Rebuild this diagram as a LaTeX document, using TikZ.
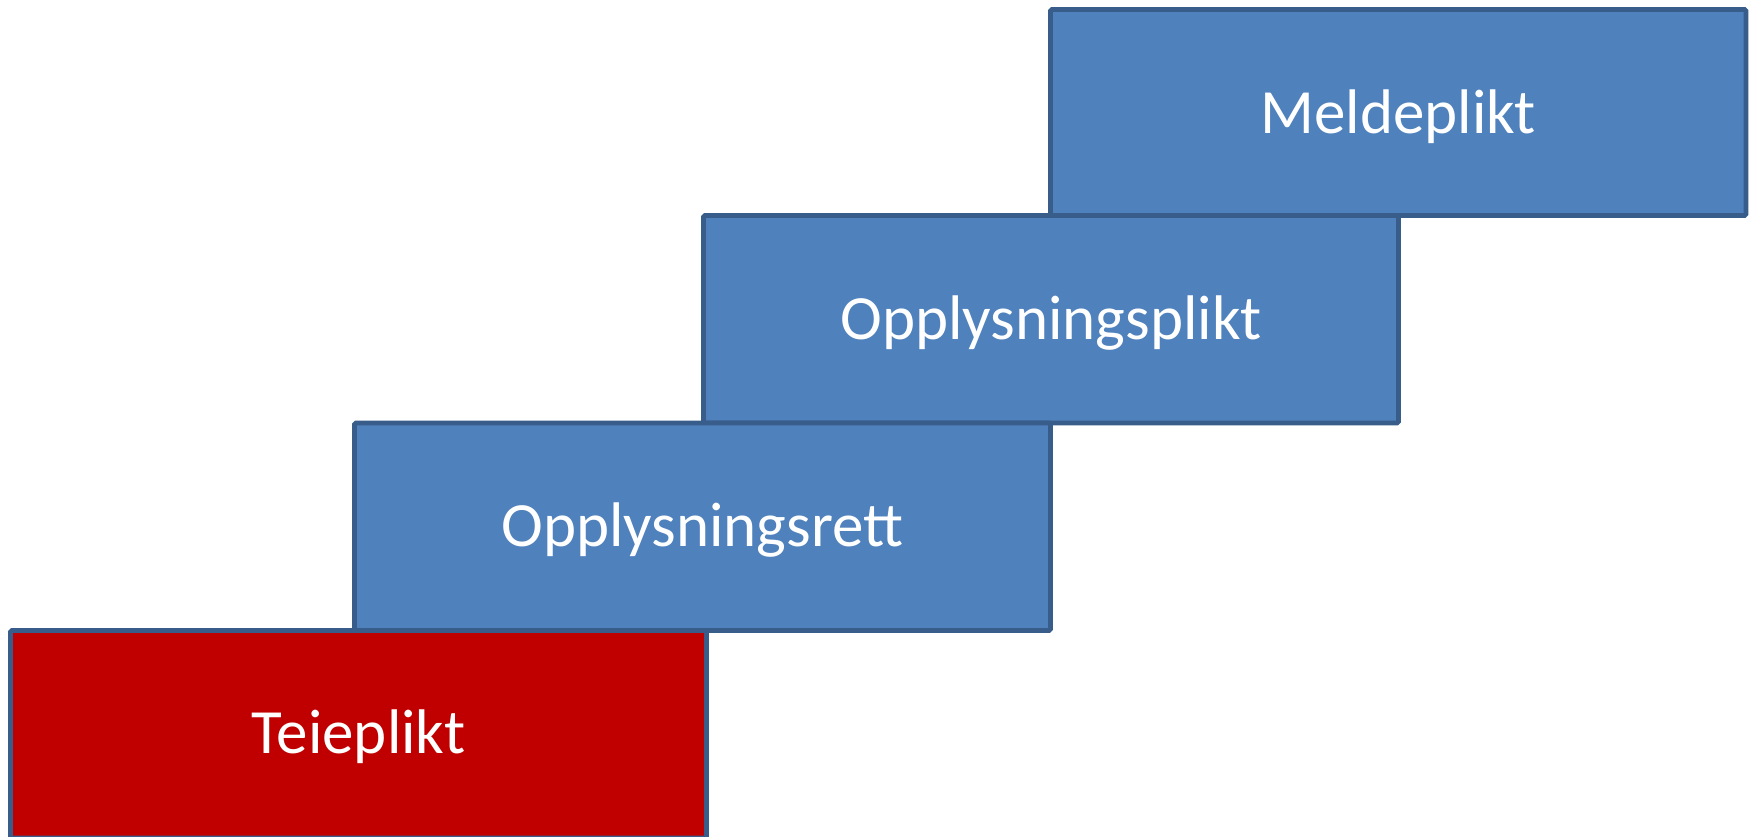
\documentclass[tikz,border=0pt]{standalone}
\usepackage{fontspec}
\setmainfont{Carlito}
\definecolor{boxblue}{HTML}{4F81BD}
\definecolor{boxline}{HTML}{385D8A}
\definecolor{boxred}{HTML}{C00000}
\begin{document}
\begin{tikzpicture}[x=1pt,y=-1pt,
  stepbox/.style={draw=boxline, line width=4.8pt, rounded corners=1.5pt, fill=boxblue},
  steplabel/.style={text=white, anchor=base, inner sep=0pt, font=\fontsize{63}{75}\selectfont}]
\useasboundingbox (0,0) rectangle (1759,836);
\fill[white] (0,0) rectangle (1759,836);
\begin{scope}
\clip (0,0) rectangle (1759,836);
\draw[stepbox] (1050.5,9.5) rectangle (1746,215.5);
\draw[stepbox] (703.5,215.5) rectangle (1398.5,423);
\draw[stepbox] (354.5,423) rectangle (1050.5,630.5);
\draw[stepbox, fill=boxred] (10.5,630.5) rectangle (706.5,838);
\end{scope}
\node[steplabel] (m) at (1398.25,133.5) {Meldeplikt};
\node[steplabel] (p) at (1051,339) {Opplysningsplikt};
\node[steplabel] (r) at (702.5,546.3) {Opplysningsrett};
\node[steplabel] (t) at (358.5,753) {Teieplikt};
\end{tikzpicture}
\end{document}
